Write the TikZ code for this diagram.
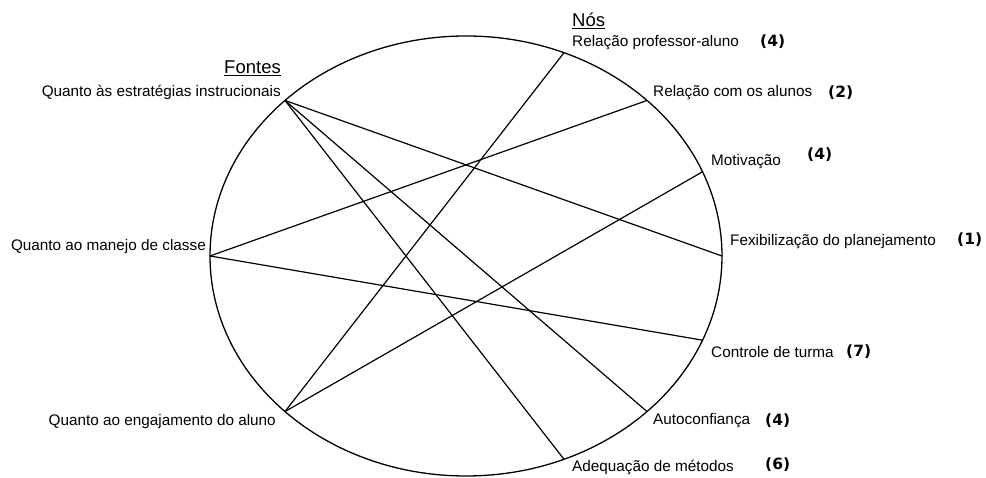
\documentclass[tikz,border=0pt]{standalone}
\usepackage{fontspec}
\setmainfont{Liberation Sans}
\newfontfamily\numfont{DejaVu Sans}
\begin{document}
\begin{tikzpicture}[x=1pt,y=1pt,
  lbl/.style={inner sep=0pt,font=\fontsize{15.3}{18}\selectfont},
  num/.style={inner sep=0pt,font=\numfont\bfseries\fontsize{15.5}{18}\selectfont},
  hdr/.style={inner sep=0pt,font=\fontsize{18.5}{21}\selectfont},
  link/.style={line width=1.2pt,black}]
\useasboundingbox (0,0) rectangle (986,478);
\coordinate (c) at (466,222);
\draw[line width=1.3pt] (c) ellipse [x radius=256, y radius=220];
% points on the circle
\path (c) ++(135:256 and 220) coordinate (qe);
\path (c) ++(180:256 and 220) coordinate (qm);
\path (c) ++(225:256 and 220) coordinate (qg);
\path (c) ++(67.5:256 and 220) coordinate (rpa);
\path (c) ++(45:256 and 220) coordinate (rca);
\path (c) ++(22.5:256 and 220) coordinate (mot);
\path (c) ++(0:256 and 220) coordinate (fex);
\path (c) ++(-22.5:256 and 220) coordinate (ct);
\path (c) ++(-45:256 and 220) coordinate (aut);
\path (c) ++(-67.5:256 and 220) coordinate (adm);
% connectors
\draw[link] (qe) -- (fex);
\draw[link] (qe) -- (aut);
\draw[link] (qe) -- (adm);
\draw[link] (qm) -- (rca);
\draw[link] (qm) -- (ct);
\draw[link] (qg) -- (rpa);
\draw[link] (qg) -- (mot);
% headers
\node[hdr,anchor=east] (hf) at (281,410) {\underline{Fontes}};
\node[hdr,anchor=west] (hn) at (572,457) {\underline{Nós}};
% left labels
\node[lbl,anchor=east] (tqe) at (281,386) {Quanto às estratégias instrucionais};
\node[lbl,anchor=east] (tqm) at (206,231) {Quanto ao manejo de classe};
\node[lbl,anchor=east] (tqg) at (276,56) {Quanto ao engajamento do aluno};
% right labels
\node[lbl,anchor=west] (trpa) at (572,435) {Relação professor-aluno};
\node[num,anchor=west] (nrpa) at (760,436) {(4)};
\node[lbl,anchor=west] (trca) at (653,385) {Relação com os alunos};
\node[num,anchor=west] (nrca) at (828,385) {(2)};
\node[lbl,anchor=west] (tmot) at (711,316) {Motivação};
\node[num,anchor=west] (nmot) at (807,323) {(4)};
\node[lbl,anchor=west] (tfex) at (730,236) {Fexibilização do planejamento};
\node[num,anchor=west] (nfex) at (957,238) {(1)};
\node[lbl,anchor=west] (tct) at (711,126) {Controle de turma};
\node[num,anchor=west] (nct) at (846,126) {(7)};
\node[lbl,anchor=west] (taut) at (653,57) {Autoconfiança};
\node[num,anchor=west] (naut) at (765,57) {(4)};
\node[lbl,anchor=west] (tadm) at (572,11) {Adequação de métodos};
\node[num,anchor=west] (nadm) at (765,13) {(6)};
\end{tikzpicture}
\end{document}
